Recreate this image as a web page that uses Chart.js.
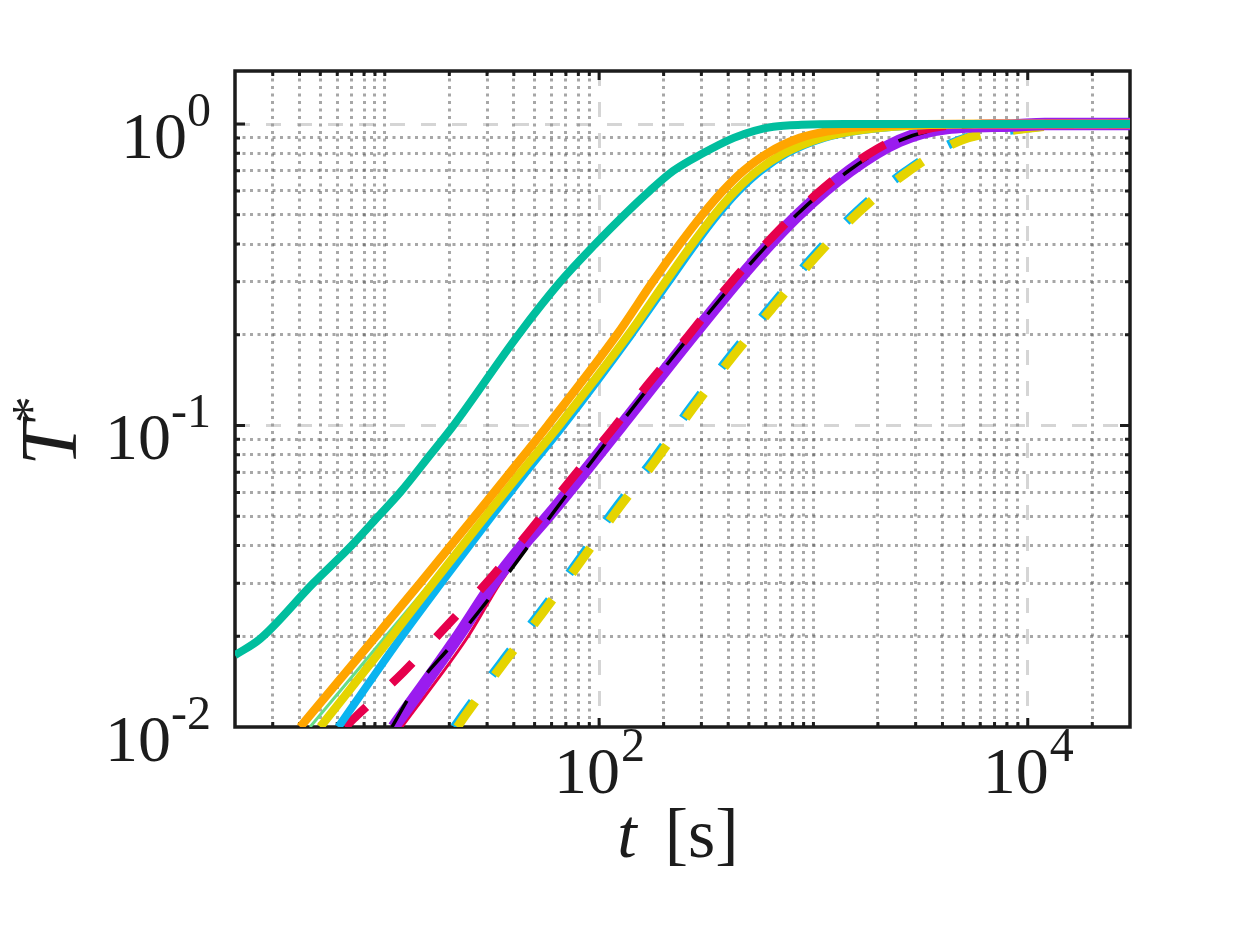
<!DOCTYPE html>
<html>
<head>
<meta charset="utf-8">
<title>T* vs t</title>
<script src="https://cdn.jsdelivr.net/npm/chart.js@4.4.1/dist/chart.umd.min.js"></script>
<style>
    html, body { margin: 0; padding: 0; background: #ffffff; }
    #wrap { width: 1250px; height: 938px; }
</style>
</head>
<body>
<div id="wrap"><canvas id="tempChart" width="1250" height="938"></canvas></div>
<script>
// axis limits
const xMin = 2, xMax = 30000;
const yMin = 0.01, yMax = 1.5;

// grid / tick positions
const xMajorTicks = [100, 10000];
const xMinorTicks = [3, 4, 5, 6, 7, 8, 9, 10, 20, 30, 40, 50, 60, 70, 80, 90,
    200, 300, 400, 500, 600, 700, 800, 900, 1000, 2000, 3000, 4000, 5000, 6000, 7000, 8000, 9000, 20000];
const yMajorTicks = [0.1, 1];
const yMinorTicks = [0.02, 0.03, 0.04, 0.05, 0.06, 0.07, 0.08, 0.09,
    0.2, 0.3, 0.4, 0.5, 0.6, 0.7, 0.8, 0.9];

// tick labels (base 10, exponent)
const xLabelValues = [100, 10000];
const xLabelExps = ['2', '4'];
const yLabelValues = [1, 0.1, 0.01];
const yLabelExps = ['0', '-1', '-2'];

// series: t [s] and T*
const tTeal = [2, 2.62, 4.64, 7.0, 9.33, 11.8, 16.3, 20.9, 42, 66, 96, 131, 172, 222, 305, 425, 530, 650, 880, 1400, 30000];
const yTeal = [0.0173, 0.0196, 0.03, 0.04, 0.05, 0.06, 0.08, 0.1, 0.2, 0.3, 0.4, 0.5, 0.6, 0.7, 0.8, 0.9, 0.95, 0.98, 0.995, 1, 1];

const tOrange = [4.03, 9.1, 14.6, 26.3, 38.5, 57.5, 121, 178, 238, 303, 378, 472, 610, 865, 1200, 1700, 2600, 4500, 30000];
const yOrange = [0.01, 0.02, 0.03, 0.05, 0.07, 0.1, 0.2, 0.3, 0.4, 0.5, 0.6, 0.7, 0.8, 0.9, 0.95, 0.98, 0.995, 1, 1];

const tYellow = [5.0, 10.8, 16.8, 29.5, 43.2, 65, 137, 204, 272, 345, 432, 548, 728, 1090, 1560, 2300, 3500, 6000, 30000];
const yYellow = [0.01, 0.02, 0.03, 0.05, 0.07, 0.1, 0.2, 0.3, 0.4, 0.5, 0.6, 0.7, 0.8, 0.9, 0.95, 0.98, 0.995, 1, 1];

const tGreen = [4.48, 10.1, 16.3, 29.3, 43.5, 66, 139, 207, 276, 350, 439, 556, 739, 1105, 1580, 2340, 3550, 6000, 30000];
const yGreen = [0.01, 0.02, 0.03, 0.05, 0.07, 0.1, 0.2, 0.3, 0.4, 0.5, 0.6, 0.7, 0.8, 0.9, 0.95, 0.98, 0.995, 1, 1];

const tBlue = [6.07, 12.0, 18.3, 31.5, 45.5, 68, 141, 211, 281, 357, 447, 567, 752, 1120, 1600, 2380, 3550, 6000, 30000];
const yBlue = [0.01, 0.02, 0.03, 0.05, 0.07, 0.1, 0.2, 0.3, 0.4, 0.5, 0.6, 0.7, 0.8, 0.9, 0.95, 0.98, 0.995, 1, 1];

const tRedDash = [6.54, 7.4, 12.2, 19.5, 31.0, 47.6, 73.2, 112.5, 167, 261, 401, 640, 1035, 1806, 2920, 6000, 30000];
const yRedDash = [0.01, 0.0109, 0.0152, 0.0217, 0.031, 0.0448, 0.0656, 0.0949, 0.1355, 0.1986, 0.291, 0.4206, 0.586, 0.795, 0.938, 1, 1];

const tBlackDash = [10.8, 13.6, 21.3, 32.7, 49.4, 124, 268, 500, 835, 1460, 2500, 4200, 8500, 12000, 30000];
const yBlackDash = [0.01, 0.0132, 0.0193, 0.0283, 0.042, 0.1, 0.2, 0.34, 0.5, 0.7, 0.88, 0.97, 0.99, 1, 1];

const tPurple = [11.0, 22.0, 32.1, 44, 57.8, 127, 275, 510, 850, 1480, 2520, 4200, 8500, 12000, 30000];
const yPurple = [0.01, 0.02, 0.03, 0.04, 0.05, 0.1, 0.2, 0.34, 0.5, 0.7, 0.88, 0.97, 0.99, 1, 1];

const tRed = [12.0, 24.5, 34.5, 46, 60, 131, 280, 518, 860, 1490, 2530, 4200, 8500, 12000, 30000];
const yRed = [0.01, 0.02, 0.03, 0.04, 0.05, 0.1, 0.2, 0.34, 0.5, 0.7, 0.88, 0.97, 0.99, 1, 1];

const tYellowDash = [21.8, 23.7, 35.7, 54.0, 81.5, 121, 186, 276, 423, 647, 1018, 1622, 2729, 4926, 9390, 14000, 20000, 30000];
const yYellowDash = [0.01, 0.0109, 0.0162, 0.0237, 0.0352, 0.0522, 0.0775, 0.115, 0.1704, 0.2464, 0.361, 0.509, 0.691, 0.885, 0.962, 0.99, 1, 1];

const tBlueDash = [21.1, 23.0, 34.6, 52.4, 79.1, 117, 180, 268, 410, 628, 987, 1573, 2647, 4778, 9100, 13600, 20000, 30000];
const yBlueDash = [0.01, 0.0109, 0.0162, 0.0237, 0.0352, 0.0522, 0.0775, 0.115, 0.1704, 0.2464, 0.361, 0.509, 0.691, 0.885, 0.962, 0.99, 1, 1];

const serif = '"Liberation Serif", "Times New Roman", serif';
const axisColor = '#1c1c1c';

function toPoints(ts, ys) {
    return ts.map(function (t, i) { return { x: t, y: ys[i] }; });
}

// order: lower number is drawn on top
function series(ts, ys, color, width, dash, order) {
    return {
        data: toPoints(ts, ys),
        borderColor: color,
        borderWidth: width,
        borderDash: dash,
        borderCapStyle: 'butt',
        borderJoinStyle: 'round',
        cubicInterpolationMode: 'monotone',
        pointRadius: 0,
        fill: false,
        order: order
    };
}

function fixedTicks(values) {
    return function (axis) {
        axis.ticks = values.map(function (v) { return { value: v }; });
    };
}

function gridScale(axisId, min, max, values, color, width, dash) {
    return {
        type: 'logarithmic',
        axis: axisId,
        position: axisId === 'x' ? 'bottom' : 'left',
        min: min,
        max: max,
        afterBuildTicks: fixedTicks(values),
        ticks: { display: false },
        grid: { color: color, lineWidth: width, drawTicks: false },
        border: { display: false, dash: dash }
    };
}

// inward tick marks and the box, under the curves
const axesBox = {
    id: 'axesBox',
    beforeDatasetsDraw: function (chart) {
        const ctx = chart.ctx;
        const a = chart.chartArea;
        const xs = chart.scales.x;
        const ys = chart.scales.y;
        ctx.save();
        ctx.strokeStyle = axisColor;
        ctx.lineWidth = 3;
        ctx.beginPath();
        xMajorTicks.concat(xMinorTicks).forEach(function (v) {
            const len = xMajorTicks.indexOf(v) >= 0 ? 9 : 5;
            const px = xs.getPixelForValue(v);
            ctx.moveTo(px, a.bottom); ctx.lineTo(px, a.bottom - len);
            ctx.moveTo(px, a.top); ctx.lineTo(px, a.top + len);
        });
        yMajorTicks.concat(yMinorTicks).forEach(function (v) {
            const len = yMajorTicks.indexOf(v) >= 0 ? 10 : 5;
            const py = ys.getPixelForValue(v);
            ctx.moveTo(a.left, py); ctx.lineTo(a.left + len, py);
            ctx.moveTo(a.right, py); ctx.lineTo(a.right - len, py);
        });
        ctx.stroke();
        ctx.lineWidth = 3.5;
        ctx.strokeRect(a.left, a.top, a.right - a.left, a.bottom - a.top);
        ctx.restore();
    }
};

// tick labels with superscripts and axis titles
const axisText = {
    id: 'axisText',
    afterDraw: function (chart) {
        const ctx = chart.ctx;
        const a = chart.chartArea;
        const xs = chart.scales.x;
        const ys = chart.scales.y;
        const baseFont = '66px ' + serif;
        const expFont = '48px ' + serif;
        ctx.save();
        ctx.fillStyle = axisColor;
        ctx.textBaseline = 'alphabetic';
        ctx.textAlign = 'left';

        yLabelValues.forEach(function (v, i) {
            const py = ys.getPixelForValue(v);
            ctx.font = expFont;
            const we = ctx.measureText(yLabelExps[i]).width;
            ctx.font = baseFont;
            const wb = ctx.measureText('10').width;
            const right = a.left - 24;
            ctx.fillText('10', right - we - wb, py + 33.5);
            ctx.font = expFont;
            ctx.fillText(yLabelExps[i], right - we, py + 1.5);
        });

        xLabelValues.forEach(function (v, i) {
            const px = xs.getPixelForValue(v);
            ctx.font = expFont;
            const we = ctx.measureText(xLabelExps[i]).width;
            ctx.font = baseFont;
            const wb = ctx.measureText('10').width;
            const left = px - (wb + we) / 2;
            ctx.fillText('10', left, a.bottom + 66);
            ctx.font = expFont;
            ctx.fillText(xLabelExps[i], left + wb + 1, a.bottom + 34);
        });

        // x title: t [s]
        ctx.font = 'italic 70px ' + serif;
        const wt = ctx.measureText('t').width;
        ctx.font = '70px ' + serif;
        const wu = ctx.measureText('[s]').width;
        const gap = 28;
        let x0 = 678 - (wt + gap + wu) / 2;
        ctx.font = 'italic 70px ' + serif;
        ctx.fillText('t', x0, a.bottom + 130);
        ctx.font = '70px ' + serif;
        ctx.fillText('[s]', x0 + wt + gap, a.bottom + 130);

        // y title: T*
        ctx.translate(76, 430);
        ctx.rotate(-Math.PI / 2);
        ctx.font = 'italic 80px ' + serif;
        const wT = ctx.measureText('T').width;
        ctx.font = '54px ' + serif;
        const wS = ctx.measureText('*').width;
        x0 = -(wT + wS) / 2;
        ctx.font = 'italic 80px ' + serif;
        ctx.fillText('T', x0, 0);
        ctx.font = '54px ' + serif;
        ctx.fillText('*', x0 + wT - 2, -27);
        ctx.restore();
    }
};

const whiteBackground = {
    id: 'whiteBackground',
    beforeDraw: function (chart) {
        const ctx = chart.ctx;
        ctx.save();
        ctx.fillStyle = '#ffffff';
        ctx.fillRect(0, 0, chart.width, chart.height);
        ctx.restore();
    }
};

function createChart() {
    const ctx = document.getElementById('tempChart');
    new Chart(ctx, {
        type: 'line',
        data: {
            datasets: [
                series(tTeal, yTeal, '#00BE9E', 8, [], 0),
                series(tOrange, yOrange, '#FFA500', 8.5, [], 1),
                series(tYellow, yYellow, '#E5D400', 8.5, [], 2),
                series(tGreen, yGreen, '#66DD88', 3, [], 3),
                series(tBlue, yBlue, '#0AB4F0', 8, [], 4),
                series(tRedDash, yRedDash, '#E6004C', 8.5, [29, 35], 5),
                series(tBlackDash, yBlackDash, '#000000', 3.5, [30, 35], 6),
                series(tPurple, yPurple, '#9A1CEF', 12.5, [], 7),
                series(tRed, yRed, '#E6004C', 3, [], 8),
                series(tYellowDash, yYellowDash, '#E5D400', 9, [31, 33], 9),
                series(tBlueDash, yBlueDash, '#0AB4F0', 9, [31, 33], 10)
            ]
        },
        options: {
            responsive: false,
            animation: false,
            events: [],
            layout: { padding: { left: 235, right: 120, top: 71, bottom: 211 } },
            plugins: {
                legend: { display: false },
                tooltip: { enabled: false }
            },
            scales: {
                x: gridScale('x', xMin, xMax, xMajorTicks, 'rgba(150,150,150,0.4)', 3, [15, 16]),
                xMinor: gridScale('x', xMin, xMax, xMinorTicks, 'rgba(80,80,80,0.5)', 3, [3, 4.5]),
                y: gridScale('y', yMin, yMax, yMajorTicks, 'rgba(150,150,150,0.4)', 3, [15, 16]),
                yMinor: gridScale('y', yMin, yMax, yMinorTicks, 'rgba(80,80,80,0.5)', 3, [3, 4.5])
            }
        },
        plugins: [whiteBackground, axesBox, axisText]
    });
}

createChart();
</script>
</body>
</html>
